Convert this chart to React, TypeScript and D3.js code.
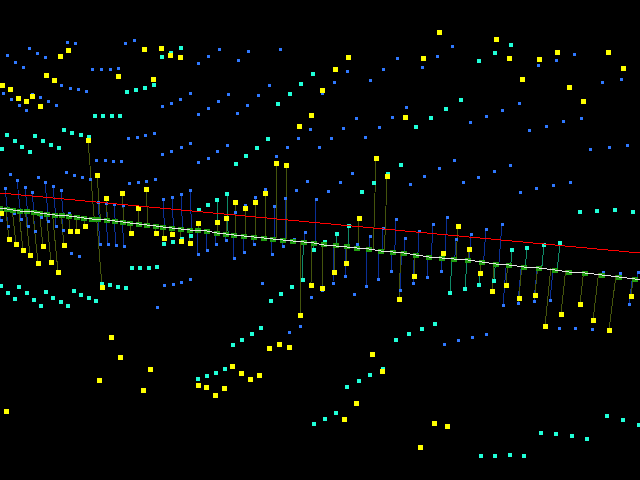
import React, { useEffect } from 'react'
import * as d3 from 'd3'

type Pt = [number, number]

const width = 640
const height = 480

// points that sit off in the background, no stems
const blueFree: Pt[] = [
  [7, 55], [29, 48], [37, 53], [45, 57], [15, 62], [23, 67], [67, 42], [75, 43], [92, 69], [101, 69], [110, 69], [118, 68],
  [125, 43], [134, 40], [61, 85], [70, 88], [78, 89], [86, 91], [32, 94], [3, 93], [40, 97], [48, 101], [56, 105], [11, 99],
  [19, 105], [26, 110], [162, 106], [171, 103], [180, 99], [190, 93], [198, 114], [208, 108], [218, 101], [228, 94], [198, 63],
  [208, 56], [219, 49], [238, 60], [248, 51], [280, 49], [269, 85], [258, 95], [247, 105], [237, 113], [310, 129], [298, 138],
  [287, 147], [276, 156], [319, 147], [227, 145], [217, 151], [208, 158], [128, 138], [137, 137], [145, 135], [154, 133],
  [190, 143], [181, 147], [171, 151], [162, 154], [96, 160], [105, 160], [113, 161], [121, 161], [452, 46], [437, 56], [422, 67],
  [397, 58], [383, 69], [370, 80], [347, 71], [334, 82], [322, 93], [406, 107], [392, 117], [379, 127], [365, 137], [356, 118],
  [343, 128], [331, 138], [519, 103], [502, 110], [486, 116], [470, 123], [574, 54], [556, 60], [538, 65], [621, 79], [602, 82],
  [581, 118], [563, 121], [546, 126], [529, 130], [627, 145], [609, 147], [590, 149], [454, 160], [10, 174], [38, 177], [66, 172],
  [74, 175], [82, 177], [90, 179], [129, 183], [138, 182], [146, 181], [155, 179], [198, 162], [71, 253], [79, 256], [164, 285],
  [173, 284], [181, 282], [190, 279], [157, 307], [262, 283], [311, 297], [354, 294], [296, 190], [307, 181], [328, 191],
  [340, 182], [352, 173], [424, 176], [410, 184], [439, 168], [463, 182], [478, 177], [494, 171], [510, 165], [520, 192],
  [536, 188], [553, 185], [570, 182], [559, 328], [575, 328], [592, 329], [472, 337], [486, 334], [458, 340], [444, 344],
  [300, 326], [289, 332],
]
const cyanFree: Pt[] = [
  [181, 48], [171, 53], [162, 57], [127, 92], [136, 90], [145, 88], [154, 85], [95, 116], [103, 116], [112, 116], [120, 116],
  [64, 130], [72, 133], [81, 135], [89, 137], [7, 135], [35, 136], [15, 141], [43, 141], [22, 147], [51, 145], [2, 149], [59, 148],
  [30, 152], [313, 74], [301, 84], [290, 94], [278, 104], [268, 139], [257, 148], [246, 156], [511, 45], [495, 53], [479, 61],
  [461, 100], [446, 109], [431, 118], [416, 127], [208, 205], [199, 210], [191, 236], [182, 239], [173, 242], [164, 244],
  [132, 268], [140, 268], [149, 268], [157, 267], [110, 285], [118, 287], [126, 288], [102, 284], [1, 286], [19, 287], [8, 293],
  [27, 293], [15, 299], [34, 300], [41, 306], [46, 292], [53, 298], [61, 302], [68, 306], [74, 291], [81, 295], [89, 298], [96, 301],
  [236, 164], [401, 165], [362, 192], [374, 183], [388, 174], [292, 287], [281, 294], [271, 301], [580, 212], [597, 211],
  [615, 210], [633, 212], [435, 324], [422, 329], [409, 334], [396, 340], [261, 328], [252, 334], [242, 340], [233, 345],
  [225, 369], [216, 373], [207, 376], [198, 379], [314, 424], [383, 369], [370, 375], [359, 381], [347, 387], [336, 413], [325, 419],
  [481, 456], [495, 456], [510, 455], [524, 456], [541, 433], [556, 434], [572, 436], [587, 439], [607, 416], [623, 420], [639, 425],
]
const yellowFree: Pt[] = [
  [68, 50], [60, 56], [46, 75], [54, 80], [144, 49], [161, 48], [170, 55], [180, 57], [118, 76], [153, 79], [2, 85], [10, 89],
  [18, 98], [32, 96], [26, 101], [40, 106], [311, 115], [299, 126], [439, 32], [496, 39], [348, 57], [423, 58], [509, 58], [335, 69],
  [322, 90], [539, 59], [557, 52], [608, 52], [623, 68], [522, 79], [569, 87], [583, 101], [405, 117], [111, 337], [120, 357],
  [150, 369], [99, 380], [143, 390], [6, 411], [198, 385], [206, 387], [215, 395], [224, 388], [232, 366], [241, 373], [250, 379],
  [259, 375], [269, 348], [279, 344], [289, 347], [372, 354], [382, 371], [356, 403], [344, 419], [434, 423], [447, 426], [420, 447],
]

// points with a stem down to the ground line
const blueStem: Pt[] = [
  [5, 188], [17, 180], [25, 187], [32, 192], [45, 182], [53, 186], [61, 190], [98, 202], [106, 203], [114, 204], [123, 205],
  [163, 199], [172, 197], [181, 194], [190, 190], [69, 213], [41, 217], [48, 221], [56, 226], [63, 230], [14, 213], [21, 219],
  [28, 226], [35, 231], [1, 220], [8, 226], [100, 244], [108, 245], [116, 246], [124, 247], [198, 254], [207, 250], [216, 245],
  [226, 240], [234, 258], [244, 252], [254, 245], [272, 254], [283, 247], [294, 239], [305, 232], [245, 205], [255, 197], [235, 212],
  [265, 189], [274, 206], [285, 198], [316, 199], [357, 245], [370, 236], [383, 228], [396, 219], [405, 238], [419, 231], [391, 271],
  [378, 279], [366, 286], [345, 276], [333, 283], [322, 290], [413, 283], [400, 290], [433, 224], [447, 217], [471, 234], [486, 229],
  [502, 224], [456, 239], [427, 277], [441, 271], [503, 305], [518, 303], [534, 301], [550, 300], [629, 304], [586, 272], [603, 272],
  [620, 273], [638, 272],
]
const cyanStem: Pt[] = [
  [217, 200], [227, 194], [349, 226], [337, 234], [325, 242], [314, 250], [303, 280], [512, 250], [527, 248], [544, 245], [560, 243],
  [494, 281], [479, 285], [465, 289], [450, 293],
]
const yellowStem: Pt[] = [
  [88, 140], [97, 175], [106, 198], [122, 193], [146, 189], [138, 208], [1, 213], [9, 239], [16, 244], [23, 250], [30, 255], [38, 263],
  [43, 247], [51, 262], [58, 272], [64, 246], [70, 231], [77, 231], [85, 226], [102, 287], [131, 233], [156, 233], [164, 238],
  [172, 234], [181, 241], [190, 243], [198, 223], [207, 231], [276, 163], [286, 165], [376, 158], [387, 176], [265, 193], [255, 202],
  [245, 208], [235, 202], [226, 218], [217, 222], [359, 218], [346, 263], [334, 272], [322, 288], [311, 285], [300, 315], [414, 276],
  [399, 299], [458, 226], [443, 253], [469, 249], [480, 273], [492, 291], [506, 285], [519, 298], [535, 295], [545, 326], [561, 314],
  [580, 304], [593, 320], [609, 330], [631, 296],
]

// ground line knots, the line runs on to the right edge
const groundKnots: Pt[] = [
  [0, 208], [7, 209], [13, 210], [20, 211], [27, 211], [34, 212], [40, 213], [47, 214], [55, 215], [62, 215], [69, 216], [77, 217], [84, 218],
  [92, 219], [98, 219], [107, 220], [115, 221], [123, 222], [130, 223], [139, 224], [147, 225], [156, 226], [163, 227], [172, 228],
  [181, 229], [190, 230], [198, 230], [207, 231], [217, 233], [226, 234], [234, 235], [244, 236], [254, 237], [264, 238], [273, 239],
  [283, 240], [293, 241], [304, 242], [314, 243], [324, 245], [336, 246], [347, 247], [357, 248], [369, 249], [381, 251], [393, 252],
  [404, 253], [416, 255], [429, 257], [442, 258], [454, 259], [468, 260], [482, 262], [496, 264], [509, 265], [524, 267], [539, 268],
  [555, 270], [569, 272], [585, 273], [602, 275], [619, 277], [635, 279],
]
const groundEnd: Pt = [640, 279]
const redLine: Pt[] = [[0, 193], [640, 253]]

const x = d3.scaleLinear().domain([0, 640]).range([0, width])
const y = d3.scaleLinear().domain([0, 480]).range([0, height])
const lineGen = d3.line<Pt>().x((d) => x(d[0])).y((d) => y(d[1]))

// stems lean towards a point far under the picture and stop on the ground line
const stemFoot = (p: Pt): Pt => {
  const lean = (300 - p[0]) / (2800 - p[1])
  const footX = p[0] + lean * (208 + p[0] * 0.109 - p[1])
  return [footX, 208 + footX * 0.109]
}

const Squares = ({ data, w, h = w, fill }: { data: Pt[]; w: number; h?: number; fill: string }) => (
  <g fill={fill}>
    {data.map((d, i) => (
      <rect key={i} x={Math.round(x(d[0]) - w / 2)} y={Math.round(y(d[1]) - h / 2)} width={w} height={h} />
    ))}
  </g>
)

const Stems = ({ data, stroke }: { data: Pt[]; stroke: string }) => (
  <g stroke={stroke} fill="none">
    {data.map((d, i) => (
      <path key={i} d={lineGen([d, stemFoot(d)]) ?? ''} />
    ))}
  </g>
)

const App = () => {
  useEffect(() => {
    document.body.style.margin = '0'
    document.body.style.background = '#000'
  }, [])

  return (
    <svg width={width} height={height} style={{ display: 'block', background: '#000' }} shapeRendering="crispEdges">
      <Stems data={blueStem} stroke="#0a2f96" />
      <Stems data={cyanStem} stroke="#0f8a68" />
      <Stems data={yellowStem} stroke="#44540c" />
      <Squares data={blueFree} w={3} fill="#2f78ff" />
      <Squares data={blueStem} w={3} fill="#2f78ff" />
      <Squares data={cyanFree} w={4} fill="#20ffd8" />
      <Squares data={cyanStem} w={4} fill="#20ffd8" />
      <Squares data={yellowFree} w={5} fill="#ffff00" />
      <Squares data={yellowStem} w={5} fill="#ffff00" />
      <Squares data={groundKnots} w={6} h={5} fill="#1f9e10" />
      <path d={lineGen(redLine) ?? ''} stroke="#ff0000" fill="none" />
      <path d={lineGen([...groundKnots, groundEnd]) ?? ''} stroke="#e4e4e4" fill="none" />
    </svg>
  )
}

export default App
